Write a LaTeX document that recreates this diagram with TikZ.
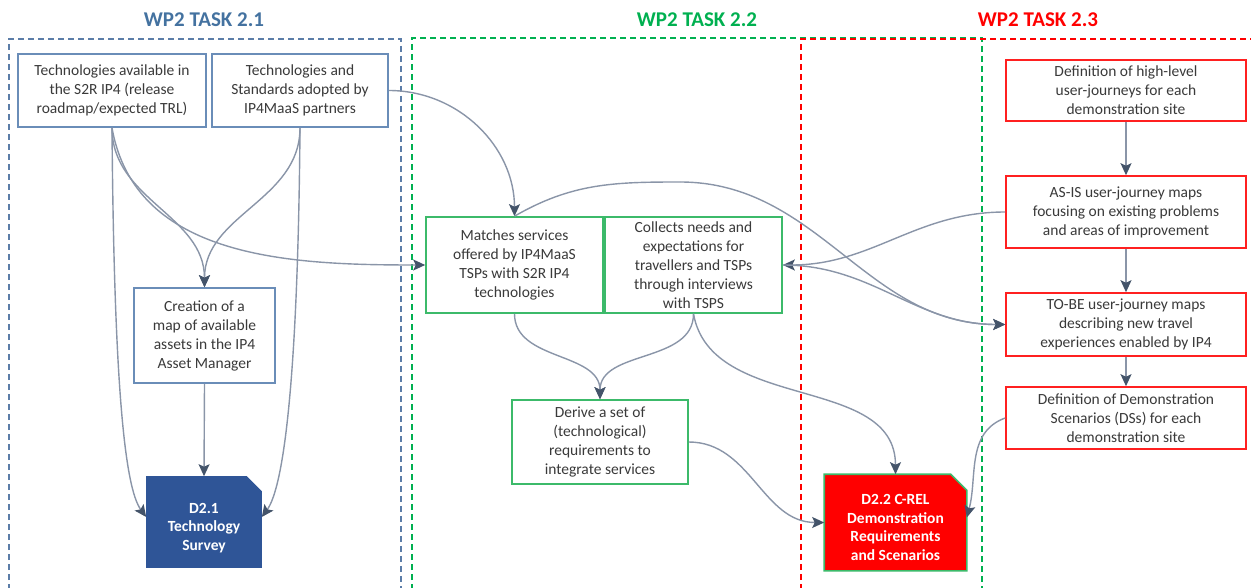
\documentclass[tikz,border=0pt]{standalone}
\usepackage{fontspec}
\setmainfont{Carlito}
\usetikzlibrary{arrows.meta}
\definecolor{titleblue}{HTML}{4472A0}
\definecolor{titlegreen}{HTML}{00B050}
\definecolor{titlered}{HTML}{FF0000}
\definecolor{dashblue}{HTML}{5B7DA8}
\definecolor{boxblue}{HTML}{6A8DB8}
\definecolor{boxgreen}{HTML}{3CBA6A}
\definecolor{boxred}{HTML}{FF2020}
\definecolor{docblue}{HTML}{2F5597}
\definecolor{txt}{HTML}{3A3A3A}
\definecolor{conn}{HTML}{8A95A8}
\definecolor{head}{HTML}{44546A}
\begin{document}
\begin{tikzpicture}[x=1pt,y=1pt,
  frame/.style={line width=1.5pt, dash pattern=on 6pt off 4pt},
  title/.style={font=\fontsize{21}{24}\selectfont\bfseries},
  bbox/.style={draw, line width=1.6pt, fill=white, align=center, inner sep=2pt,
    text=txt, font=\fontsize{15.5}{19}\selectfont},
  blu/.style={bbox, draw=boxblue},
  grn/.style={bbox, draw=boxgreen},
  rd/.style={bbox, draw=boxred},
  docarea/.style={rectangle, draw=none, inner sep=0pt, outer sep=0.8pt},
  doctext/.style={align=center, text=white, font=\fontsize{15.5}{18.5}\selectfont\bfseries},
  arr/.style={draw=conn, line width=1.4pt,
    -{Stealth[length=12pt,width=11pt,inset=2.5pt,color=head]}},
  ln/.style={draw=conn, line width=1.4pt}
]
\useasboundingbox (0,0) rectangle (1251,-588);
\clip (0,0) rectangle (1251,-588);

% frames
\draw[frame, draw=dashblue] (9,-600) -- (9,-39) -- (401,-39) -- (401,-600);
\draw[frame, draw=titlegreen] (412,-600) -- (412,-38) -- (982,-38) -- (982,-600);
\draw[frame, draw=titlered] (801,-600) -- (801,-39) -- (1270,-39);

% titles
\node[title, text=titleblue] (t1) at (204,-20) {WP2 TASK 2.1};
\node[title, text=titlegreen] (t2) at (697,-20) {WP2 TASK 2.2};
\node[title, text=titlered] (t3) at (1038,-20) {WP2 TASK 2.3};

% task 2.1
\node[blu, minimum width=188, minimum height=73] (A) at (112,-90.5)
  {Technologies available in\\the S2R IP4 (release\\roadmap/expected TRL)};
\node[blu, minimum width=176, minimum height=73] (B) at (300,-90.5)
  {Technologies and\\Standards adopted by\\IP4MaaS partners};
\node[blu, minimum width=141, minimum height=95] (C) at (204.5,-335.5)
  {Creation of a\\map of available\\assets in the IP4\\Asset Manager};
\node[docarea, minimum width=114, minimum height=90] (D21) at (204,-522) {};
\fill[docblue] (D21.north west) -- ([xshift=-15]D21.north east) -- ([yshift=-15]D21.north east)
  -- (D21.south east) -- (D21.south west) -- cycle;
\node[doctext] (D21t) at (204,-528) {D2.1\\Technology\\Survey};

% task 2.2
\node[grn, minimum width=177, minimum height=96] (M) at (514.5,-265)
  {Matches services\\offered by IP4MaaS\\TSPs with S2R IP4\\technologies};
\node[grn, minimum width=177, minimum height=96] (N) at (693.5,-265)
  {Collects needs and\\expectations for\\travellers and TSPs\\through interviews\\with TSPS};
\node[grn, minimum width=176, minimum height=84] (R) at (600,-442)
  {Derive a set of\\(technological)\\requirements to\\integrate services};
\node[docarea, minimum width=141, minimum height=95] (D22) at (895.5,-522.5) {};
\filldraw[fill=red, draw=boxgreen, line width=1.6pt, line join=miter]
  (D22.north west) -- ([xshift=-16]D22.north east) -- ([yshift=-16]D22.north east)
  -- (D22.south east) -- (D22.south west) -- cycle;
\node[doctext] (D22t) at (895.5,-527.5) {D2.2 C-REL\\Demonstration\\Requirements\\and Scenarios};

% task 2.3
\node[rd, minimum width=240, minimum height=61] (E1) at (1126,-90.5)
  {Definition of high-level\\user-journeys for each\\demonstration site};
\node[rd, minimum width=240, minimum height=72] (E2) at (1126,-212)
  {AS-IS user-journey maps\\focusing on existing problems\\and areas of improvement};
\node[rd, minimum width=240, minimum height=63] (E3) at (1126,-324.5)
  {TO-BE user-journey maps\\describing new travel\\experiences enabled by IP4};
\node[rd, minimum width=240, minimum height=62] (E4) at (1126,-418)
  {Definition of Demonstration\\Scenarios (DSs) for each\\demonstration site};

\coordinate (peak) at (680,-182);

% connectors
\path[arr] (A.south) to[out=-90,in=90] (C.north);
\path[arr] (B.south) to[out=-90,in=90] (C.north);
\path[arr] (A.south) .. controls +(2,-250) and +(-22,30) .. ([yshift=5]D21.west);
\path[arr] (B.south) .. controls +(-2,-250) and +(22,30) .. ([yshift=5]D21.east);
\path[arr] (A.south) to[out=-80,in=180] (M.west);
\path[arr] (B.east) to[out=0,in=90] (M.north);
\path[arr] (C.south) -- (D21.north);
\path[ln] (M.north) to[out=30,in=180] (peak);
\path[arr] (peak) to[out=0,in=180] (E3.west);
\path[arr] (E2.west) to[out=180,in=0] (N.east);
\path[arr] (N.east) to[out=0,in=180] (E3.west);
\path[arr] (M.south) to[out=-90,in=90] (R.north);
\path[arr] (N.south) to[out=-90,in=90] (R.north);
\path[arr] (N.south) to[out=-80,in=90] (D22.north);
\path[arr] (R.east) to[out=0,in=180] (D22.west);
\path[arr] (E4.west) to[out=200,in=75] ([yshift=5]D22.east);
\path[arr] (E1.south) -- (E2.north);
\path[arr] (E2.south) -- (E3.north);
\path[arr] (E3.south) -- (E4.north);
\end{tikzpicture}
\end{document}
